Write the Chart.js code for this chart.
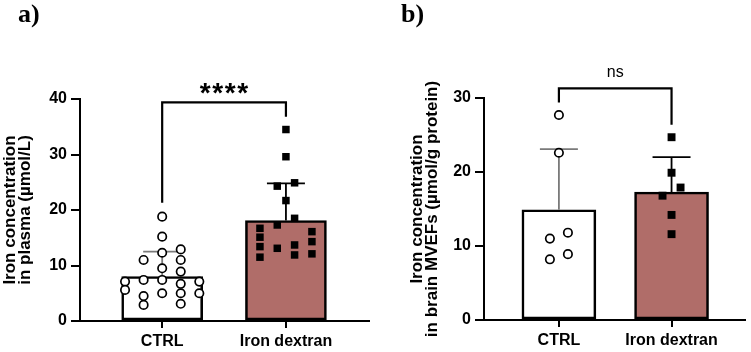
<!DOCTYPE html>
<html>
<head>
<meta charset="utf-8">
<script src="https://cdn.jsdelivr.net/npm/chart.js@4.4.1/dist/chart.umd.min.js"></script>
<style>
  html, body { margin: 0; padding: 0; background: #fff; }
  .panels { position: relative; width: 751px; height: 352px; }
  .panel { position: absolute; top: 0; width: 375px; height: 352px; }
  .panel-a { left: 0; }
  .panel-b { left: 376px; }
  .panel-tag {
    position: absolute; top: 1px;
    font: bold 26px 'Liberation Serif', 'Times New Roman', serif;
    line-height: 26px; color: #000;
  }
</style>
</head>
<body>
<div class="panels">
  <div class="panel panel-a">
    <canvas id="chart-a" width="375" height="352"></canvas>
    <div class="panel-tag" style="left:18px">a)</div>
  </div>
  <div class="panel panel-b">
    <canvas id="chart-b" width="375" height="352"></canvas>
    <div class="panel-tag" style="left:25px">b)</div>
  </div>
</div>
<script>
const GROUPS = ['CTRL', 'Iron dextran'];

// a) plasma iron (µmol/L)
const plasmaMeans = [8.0, 18.1];
const plasmaSD = [4.5, 6.7];
const plasmaCtrl = [18.8, 15.2, 12.9, 12.3, 11.0, 11.0, 9.5, 8.9, 7.4, 7.4, 7.1, 7.1, 6.7, 5.6, 5.0, 5.0, 5.0, 4.5, 3.1, 2.9];
const plasmaCtrlJitter = [0, 0, 0.15, 0, -0.15, 0.15, 0, 0.15, -0.15, 0, -0.30, 0.30, 0.15, -0.30, 0.30, 0, 0.15, -0.15, 0.15, -0.15];
const plasmaIron = [34.5, 29.6, 24.9, 24.3, 21.7, 18.5, 17.3, 16.7, 16.1, 15.1, 14.3, 13.7, 13.4, 13.1, 12.1, 11.9, 11.5];
const plasmaIronJitter = [0, 0, 0.07, -0.07, 0, 0.07, -0.07, -0.21, 0.21, -0.21, 0.21, 0.07, -0.21, -0.07, 0.21, 0.07, -0.21];
const plasmaTicks = [0, 10, 20, 30, 40];

// b) brain MVEF iron (µmol/g protein)
const brainMeans = [14.9, 17.3];
const brainSD = [8.2, 4.7];
const brainCtrl = [27.7, 22.6, 11.8, 11.0, 8.9, 8.2];
const brainCtrlJitter = [0, 0, 0.08, -0.08, 0.08, -0.08];
const brainIron = [24.7, 19.9, 17.9, 16.8, 14.2, 11.6];
const brainIronJitter = [0, 0, 0.08, -0.08, 0, 0];
const brainTicks = [0, 10, 20, 30];

const BAR_COLORS = ['#ffffff', '#b06d69'];
const ERR_COLORS = ['#7a7a7a', '#000000'];
const FONT = "'Liberation Sans', Arial, sans-serif";

const errorBarPlugin = {
    id: 'errorBars',
    afterDatasetDraw(chart, args, opts) {
        if (args.meta.type !== 'bar') return;
        const { ctx, scales: { x, y } } = chart;
        opts.means.forEach((m, i) => {
            const px = x.getPixelForValue(i);
            const y0 = y.getPixelForValue(m);
            const y1 = y.getPixelForValue(m + opts.sd[i]);
            ctx.save();
            ctx.strokeStyle = ERR_COLORS[i];
            ctx.lineWidth = 1.8;
            ctx.beginPath();
            ctx.moveTo(px, y0);
            ctx.lineTo(px, y1);
            ctx.moveTo(px - opts.cap, y1);
            ctx.lineTo(px + opts.cap, y1);
            ctx.stroke();
            ctx.restore();
        });
    }
};

const bracketPlugin = {
    id: 'sigBracket',
    afterDraw(chart, args, opts) {
        const { ctx, scales: { x, y } } = chart;
        const xl = x.getPixelForValue(0);
        const xr = x.getPixelForValue(1);
        const yt = y.getPixelForValue(opts.top);
        ctx.save();
        ctx.strokeStyle = '#000';
        ctx.lineWidth = 2.2;
        ctx.beginPath();
        ctx.moveTo(xl, y.getPixelForValue(opts.left));
        ctx.lineTo(xl, yt);
        ctx.lineTo(xr, yt);
        ctx.lineTo(xr, y.getPixelForValue(opts.right));
        ctx.stroke();

        ctx.fillStyle = '#000';
        ctx.font = opts.font;
        ctx.textAlign = 'center';
        ctx.textBaseline = 'alphabetic';
        const cx = (xl + xr) / 2;
        const ty = yt - opts.gap;
        if (opts.spacing) {
            const chars = opts.label.split('');
            const start = cx - (chars.length - 1) * opts.spacing / 2;
            chars.forEach((c, i) => ctx.fillText(c, start + i * opts.spacing, ty));
        } else {
            ctx.fillText(opts.label, cx, ty);
        }
        ctx.restore();
    }
};

function jittered(values, jitter, group) {
    return values.map((v, i) => ({ x: group + jitter[i], y: v }));
}

function buildPanel(canvasId, cfg) {
    const canvas = document.getElementById(canvasId);
    return new Chart(canvas, {
        type: 'bar',
        data: {
            datasets: [
                {
                    type: 'scatter',
                    data: jittered(cfg.ctrl, cfg.ctrlJitter, 0),
                    pointStyle: 'circle',
                    pointRadius: 4.2,
                    pointBorderWidth: 1.7,
                    pointBackgroundColor: '#ffffff',
                    pointBorderColor: '#000000',
                    order: 1
                },
                {
                    type: 'scatter',
                    data: jittered(cfg.iron, cfg.ironJitter, 1),
                    pointStyle: 'rect',
                    pointRadius: cfg.squareRadius,
                    pointBorderWidth: 0,
                    pointBackgroundColor: '#000000',
                    order: 1
                },
                {
                    type: 'bar',
                    data: cfg.means.map((m, i) => ({ x: i, y: m })),
                    backgroundColor: BAR_COLORS,
                    borderColor: '#000000',
                    borderWidth: 2.6,
                    borderSkipped: false,
                    barThickness: cfg.barPx,
                    order: 2
                }
            ]
        },
        options: {
            responsive: false,
            animation: false,
            events: [],
            layout: { padding: { top: cfg.top, right: 3, left: 0, bottom: 0 } },
            plugins: {
                legend: { display: false },
                tooltip: { enabled: false },
                errorBars: { means: cfg.means, sd: cfg.sd, cap: 19 },
                sigBracket: cfg.bracket
            },
            scales: {
                x: {
                    type: 'linear',
                    offset: false,
                    min: cfg.xMin,
                    max: cfg.xMax,
                    afterBuildTicks: (scale) => { scale.ticks = GROUPS.map((_, i) => ({ value: i })); },
                    afterFit: (scale) => { scale.height = cfg.xHeight; },
                    ticks: {
                        callback: (v) => GROUPS[v],
                        color: '#000',
                        padding: 4,
                        maxRotation: 0,
                        font: { family: FONT, weight: 'bold', size: 16 }
                    },
                    grid: { offset: false, drawOnChartArea: false, drawTicks: true, tickLength: 7, color: '#000', lineWidth: 2 },
                    border: { display: true, color: '#000', width: 2 }
                },
                y: {
                    min: 0,
                    max: cfg.yTicks[cfg.yTicks.length - 1],
                    afterBuildTicks: (scale) => { scale.ticks = cfg.yTicks.map(v => ({ value: v })); },
                    afterFit: (scale) => { scale.width = cfg.yWidth; },
                    ticks: {
                        color: '#000',
                        padding: 4,
                        font: { family: FONT, weight: 'bold', size: 16 }
                    },
                    grid: { drawOnChartArea: false, drawTicks: true, tickLength: 9, color: '#000', lineWidth: 2 },
                    border: { display: true, color: '#000', width: 2 },
                    title: {
                        display: true,
                        text: cfg.yTitle,
                        color: '#000',
                        font: { family: FONT, weight: 'bold', size: 17, lineHeight: 0.88 },
                        padding: { top: cfg.titlePad, bottom: 0 }
                    }
                }
            }
        },
        plugins: [errorBarPlugin, bracketPlugin]
    });
}

buildPanel('chart-a', {
    ctrl: plasmaCtrl, ctrlJitter: plasmaCtrlJitter,
    iron: plasmaIron, ironJitter: plasmaIronJitter,
    means: plasmaMeans, sd: plasmaSD, yTicks: plasmaTicks,
    yTitle: ['Iron concentration', 'in plasma (µmol/L)'],
    xMin: -0.664, xMax: 1.672, barPx: 81, squareRadius: 5.3,
    top: 99, yWidth: 80, xHeight: 31, titlePad: 3,
    bracket: { top: 39.4, left: 21.3, right: 36.8, label: '****', font: `bold 28px ${FONT}`, spacing: 12.5, gap: 0 }
});

buildPanel('chart-b', {
    ctrl: brainCtrl, ctrlJitter: brainCtrlJitter,
    iron: brainIron, ironJitter: brainIronJitter,
    means: brainMeans, sd: brainSD, yTicks: brainTicks,
    yTitle: ['Iron concentration', 'in brain MVEFs (µmol/g protein)'],
    xMin: -0.665, xMax: 1.653, barPx: 74, squareRadius: 5.6,
    top: 98, yWidth: 108, xHeight: 32, titlePad: 34,
    bracket: { top: 31.3, left: 29.4, right: 26.4, label: 'ns', font: `16px ${FONT}`, spacing: 0, gap: 11 }
});
</script>
</body>
</html>
